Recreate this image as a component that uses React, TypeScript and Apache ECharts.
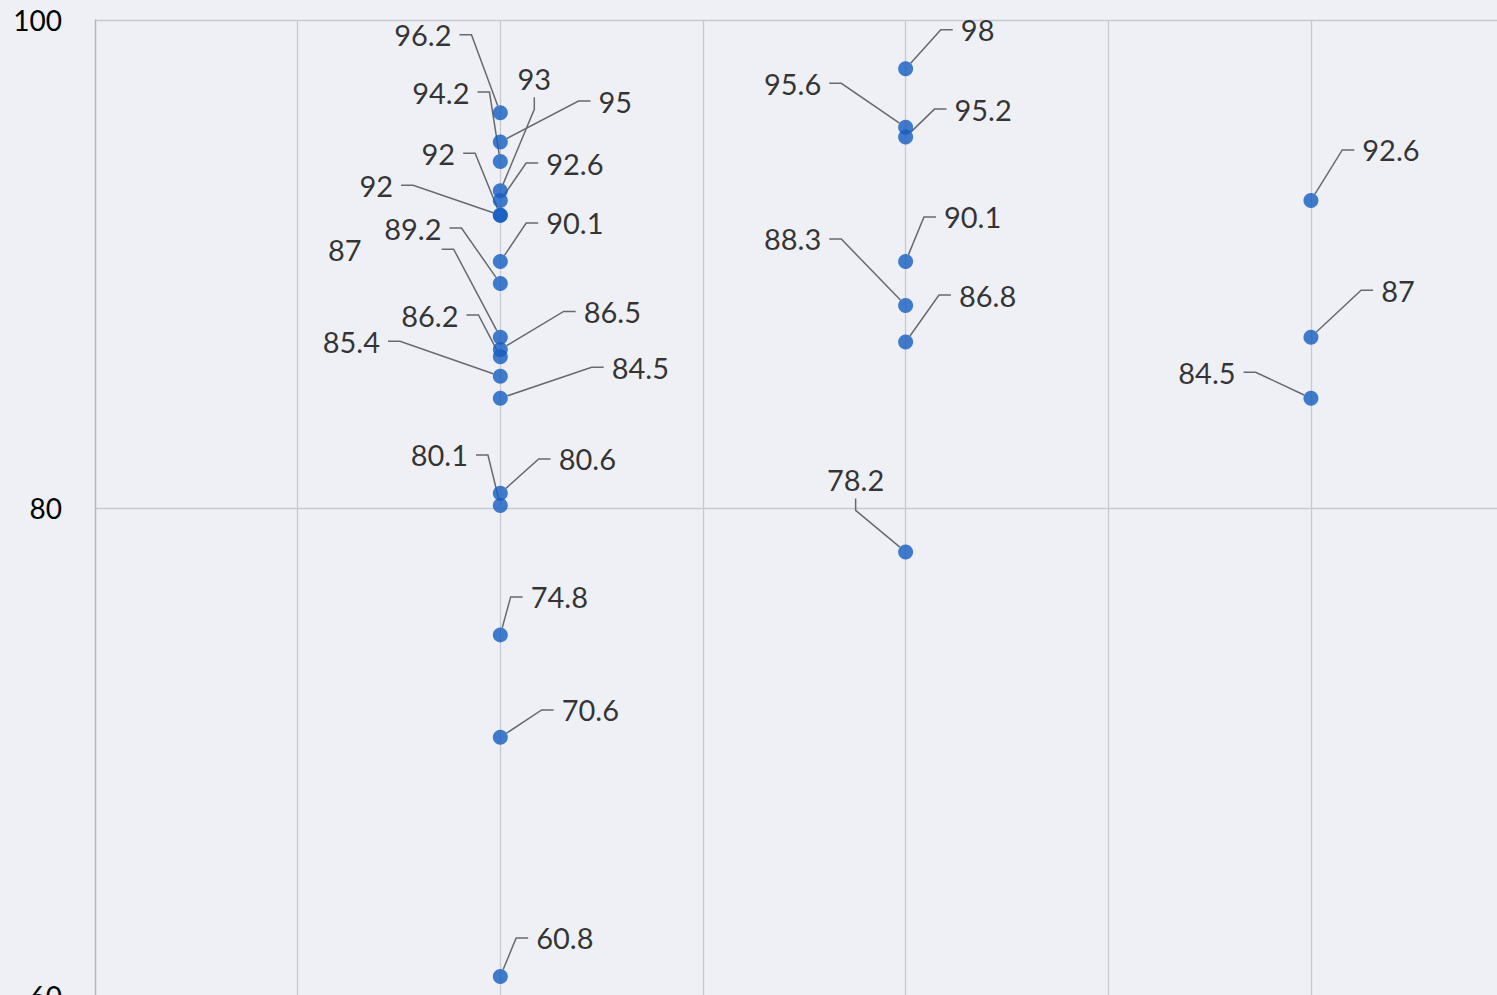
import React, { useEffect, useRef } from "react";
import * as echarts from "echarts";

// x positions of the three columns of points
const groupX = [1, 2, 3];

// values
const group1Values = [96.2, 95, 94.2, 93, 92.6, 92, 92, 90.1, 89.2, 87, 86.5, 86.2, 85.4, 84.5, 80.6, 80.1, 74.8, 70.6, 60.8];
const group2Values = [98, 95.6, 95.2, 90.1, 88.3, 86.8, 78.2];
const group3Values = [92.6, 87, 84.5];

// y-axis tick labels
const yTicks = [60, 80, 100];

// label offsets (px, relative to the point) — layout only
const group1Offsets = [
  [-77.5, -78], [115, -41], [-59.5, -69.5], [34, -112], [74.5, -37.5], [-62, -62], [-124, -30],
  [74.5, -38.6], [-87.5, -55.5], [-119.5, -88, 72], [112, -38], [-70.5, -41.7], [-149, -35], [140, -31],
  [87, -34.4], [-61, -50.6], [59, -38], [90, -27.4], [64.5, -38.5],
];
const group2Offsets = [[72, -39], [-113, -44], [77.5, -28], [67, -44.6], [-113, -66.5], [82, -47], [-50, -72]];
const group3Offsets = [[80, -50.6], [87, -47], [-104, -26]];

const FONT = "Lato, 'Noto Sans', sans-serif";

function buildData(x: number, values: number[], offsets: number[][]) {
  return values.map((v, i) => {
    const o = offsets[i] || [0, 0];
    const extra = o[2] || 0;
    return {
      value: [x, v],
      label: {
        offset: [o[0], o[1]],
        padding: [4, 8 + extra, 4, 8],
      },
    };
  });
}

export default function App() {
  const ref = useRef<HTMLDivElement>(null);
  useEffect(() => {
    if (!ref.current) return;
    const chart = echarts.init(ref.current, undefined, { renderer: "svg" });
    const data = [
      ...buildData(groupX[0], group1Values, group1Offsets),
      ...buildData(groupX[1], group2Values, group2Offsets),
      ...buildData(groupX[2], group3Values, group3Offsets),
    ];
    chart.setOption({
      animation: false,
      backgroundColor: "#eef0f6",
      grid: {
        left: 95,
        top: 20,
        right: -16.6,
        bottom: -1,
        containLabel: false,
        outerBoundsMode: "none",
      },
      xAxis: {
        type: "value",
        min: 0,
        max: 3.5,
        interval: 0.5,
        axisLabel: { show: false },
        axisTick: { show: false },
        axisLine: { show: false },
        splitLine: { show: true, lineStyle: { color: "#c6c9d1", width: 1.3 } },
      },
      yAxis: {
        type: "value",
        min: yTicks[0],
        max: yTicks[yTicks.length - 1],
        interval: 20,
        axisLine: { show: true, lineStyle: { color: "#b4b7bf", width: 1.3 } },
        axisTick: { show: false },
        splitLine: { show: true, lineStyle: { color: "#c6c9d1", width: 1.3 } },
        axisLabel: {
          color: "#000",
          fontFamily: FONT,
          fontSize: 28,
          margin: 33,
        },
      },
      series: [
        {
          type: "scatter",
          symbol: "circle",
          symbolSize: 15,
          itemStyle: { color: "#145cc0" },
          data,
          label: {
            show: true,
            position: "inside",
            align: "center",
            verticalAlign: "middle",
            color: "#000",
            fontFamily: FONT,
            fontSize: 29,
            backgroundColor: "rgba(0,0,0,0)",
            formatter: (p: any) => String(p.value[1]),
          },
          labelLine: {
            show: true,
            length2: 12,
            lineStyle: { color: "#666a70", width: 1.5 },
          },
        },
      ],
    });
    return () => chart.dispose();
  }, []);
  return (
    <div
      style={{ position: "fixed", left: 0, top: 0, width: 1497, height: 995, overflow: "hidden", background: "#eef0f6" }}
    >
      <div ref={ref} style={{ width: 1497, height: 995 }} />
    </div>
  );
}
